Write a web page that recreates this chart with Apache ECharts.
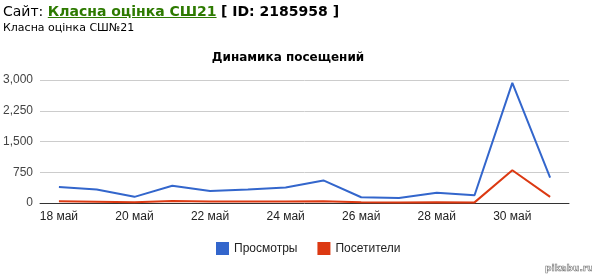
<!DOCTYPE html>
<html><head><meta charset="utf-8">
<script src="https://cdn.jsdelivr.net/npm/echarts@6/dist/echarts.min.js"></script>
<style>
html,body{margin:0;padding:0;background:#fff;width:592px;height:279px;overflow:hidden;}
#hdr{position:absolute;left:3px;top:3px;font-family:"DejaVu Sans",sans-serif;font-size:14px;color:#000;white-space:nowrap;}
#hdr a{color:#2d7a00;font-weight:bold;text-decoration:underline;}
#hdr b{font-weight:bold;}
#sub{position:absolute;left:3px;top:21px;font-family:"DejaVu Sans",sans-serif;font-size:11px;color:#000;white-space:nowrap;}
#wm{position:absolute;left:545px;top:263px;font-family:"DejaVu Sans",sans-serif;font-size:9px;color:#fff;-webkit-text-stroke:0.6px #777;font-weight:bold;white-space:nowrap;}
#c{position:absolute;left:0;top:0;width:592px;height:279px;}
</style></head>
<body>
<div id="c"></div>
<div id="hdr">Сайт: <a>Класна оцінка СШ21</a> <b>[ ID: 2185958 ]</b></div>
<div id="sub">Класна оцінка СШ№21</div>
<div id="wm">pikabu.ru</div>
<script>
const categories = ["18 май","19 май","20 май","21 май","22 май","23 май","24 май","25 май","26 май","27 май","28 май","29 май","30 май","31 май"];
const views = [390, 330, 150, 420, 290, 330, 380, 550, 140, 120, 250, 190, 2930, 620];
const visitors = [40, 30, 20, 50, 35, 35, 35, 40, 20, 15, 20, 15, 800, 150];
const yTicks = [0, 750, 1500, 2250, 3000];

const chart = echarts.init(document.getElementById('c'), null, {renderer:'canvas'});
chart.setOption({
  animation:false,
  textStyle:{fontFamily:'"Liberation Sans", Arial, sans-serif'},
  title:{text:'Динамика посещений', left:283, textAlign:'center', top:47,
    textStyle:{fontSize:12, fontWeight:'bold', color:'#000', fontFamily:'"DejaVu Sans", sans-serif'}},
  legend:{bottom:19, left:211, icon:'rect', itemWidth:13, itemHeight:13, itemGap:20,
    textStyle:{fontSize:12, color:'#222'},
    data:['Просмотры','Посетители']},
  grid:{left:40, right:23, top:80, bottom:76},
  xAxis:{type:'category', data:categories, boundaryGap:true,
    axisLine:{lineStyle:{color:'#333', width:1}},
    axisTick:{show:false},
    axisLabel:{interval:1, color:'#222', fontSize:12, margin:8}},
  yAxis:{type:'value', min:yTicks[0], max:yTicks[yTicks.length-1], interval:750,
    axisLine:{show:false}, axisTick:{show:false},
    axisLabel:{color:'#444', fontSize:12, margin:7, formatter:v=>v.toLocaleString('en-US')},
    splitLine:{lineStyle:{color:'#ccc'}}},
  series:[
    {name:'Просмотры', type:'line', data:views, symbol:'none', color:'#3366cc', lineStyle:{width:2, color:'#3366cc'}},
    {name:'Посетители', type:'line', data:visitors, symbol:'none', color:'#dc3912', lineStyle:{width:2, color:'#dc3912'}}
  ]
});
</script>
</body></html>
